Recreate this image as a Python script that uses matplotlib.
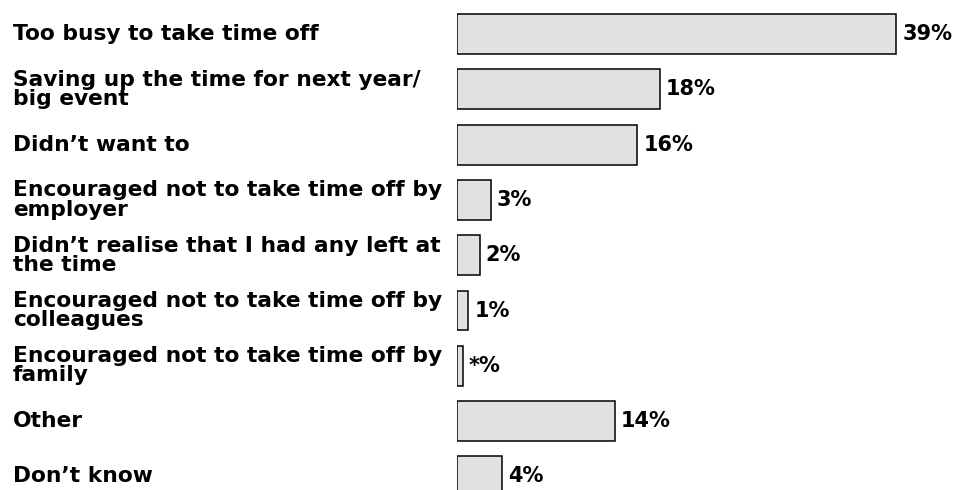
import matplotlib
matplotlib.use("Agg")
from matplotlib import pyplot as plt
from matplotlib.transforms import blended_transform_factory

categories = [
    "Too busy to take time off",
    "Saving up the time for next year/\nbig event",
    "Didn\u2019t want to",
    "Encouraged not to take time off by\nemployer",
    "Didn\u2019t realise that I had any left at\nthe time",
    "Encouraged not to take time off by\ncolleagues",
    "Encouraged not to take time off by\nfamily",
    "Other",
    "Don\u2019t know",
]
values = [39, 18, 16, 3, 2, 1, 0.5, 14, 4]
value_labels = ["39%", "18%", "16%", "3%", "2%", "1%", "*%", "14%", "4%"]

plt.rcParams['font.family'] = ['DejaVu Sans']

fig = plt.figure(figsize=(9.56, 4.9), dpi=100)
ax = fig.add_axes([457 / 956, 0, 1 - 457 / 956, 1])

pos = list(range(len(values)))
ax.barh(pos, values, height=0.72, color="#e1e1e1", edgecolor="black", linewidth=1.1)

ax.set_xlim(0, 44.3)
ax.set_ylim(8.246, -0.615)
ax.axis('off')

# category labels at fixed figure x, bar y
trans = blended_transform_factory(fig.transFigure, ax.transData)
for i, lab in enumerate(categories):
    ax.text(13 / 956, i, lab, transform=trans, ha='left', va='center',
            fontsize=15.7, fontweight='bold', linespacing=0.95)

for i, (v, t) in enumerate(zip(values, value_labels)):
    ax.annotate(t, (v, i), xytext=(4.5, 0), textcoords='offset points',
                ha='left', va='center', fontsize=15, fontweight='bold')

fig.savefig("out.png", dpi=100)
